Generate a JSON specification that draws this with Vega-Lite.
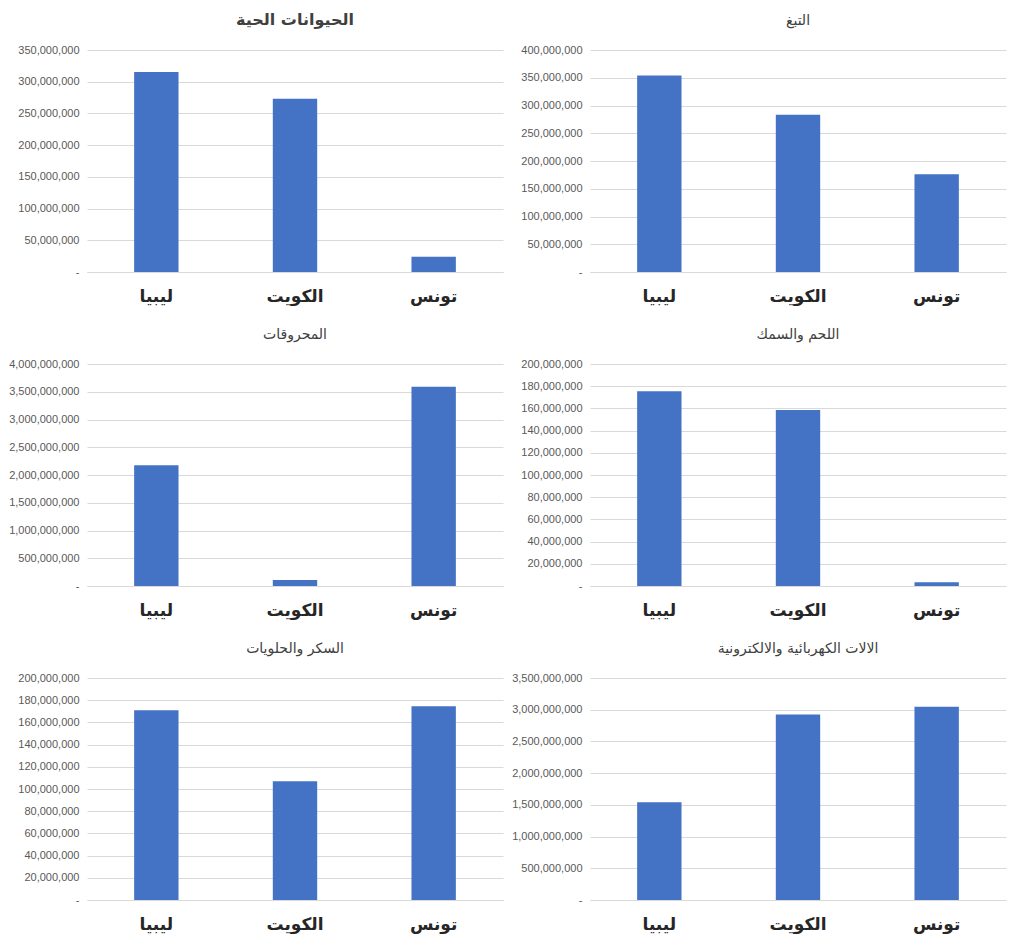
{
  "$schema": "https://vega.github.io/schema/vega-lite/v6.json",
  "background": "white",
  "padding": {"left": 8, "top": 12, "right": 6, "bottom": 6},
  "datasets": {
    "trade": [
      {"panel": "p1", "country": "ليبيا", "value": 315500000},
      {"panel": "p1", "country": "الكويت", "value": 273000000},
      {"panel": "p1", "country": "تونس", "value": 24000000},
      {"panel": "p2", "country": "ليبيا", "value": 354000000},
      {"panel": "p2", "country": "الكويت", "value": 283500000},
      {"panel": "p2", "country": "تونس", "value": 176000000},
      {"panel": "p3", "country": "ليبيا", "value": 2175000000},
      {"panel": "p3", "country": "الكويت", "value": 107000000},
      {"panel": "p3", "country": "تونس", "value": 3590000000},
      {"panel": "p4", "country": "ليبيا", "value": 175500000},
      {"panel": "p4", "country": "الكويت", "value": 158500000},
      {"panel": "p4", "country": "تونس", "value": 3300000},
      {"panel": "p5", "country": "ليبيا", "value": 171000000},
      {"panel": "p5", "country": "الكويت", "value": 107000000},
      {"panel": "p5", "country": "تونس", "value": 174500000},
      {"panel": "p6", "country": "ليبيا", "value": 1541000000},
      {"panel": "p6", "country": "الكويت", "value": 2925000000},
      {"panel": "p6", "country": "تونس", "value": 3045000000}
    ]
  },
  "columns": 2,
  "spacing": {"column": 8, "row": 24},
  "concat": [
    {
      "title": {"text": "الحيوانات الحية", "fontWeight": "bold", "fontSize": 16},
      "data": {"name": "trade"},
      "transform": [{"filter": "datum.panel == 'p1'"}],
      "width": 416, "height": 222,
      "mark": {"type": "bar", "color": "#4472C4"},
      "encoding": {
        "x": {"field": "country", "type": "nominal", "sort": ["ليبيا", "الكويت", "تونس"], "title": null, "scale": {"paddingInner": 0.68, "paddingOuter": 0.34}},
        "y": {"field": "value", "type": "quantitative", "title": null, "scale": {"domain": [0, 350000000]}, "axis": {"values": [0, 50000000, 100000000, 150000000, 200000000, 250000000, 300000000, 350000000]}}
      }
    },
    {
      "title": {"text": "التبغ"},
      "data": {"name": "trade"},
      "transform": [{"filter": "datum.panel == 'p2'"}],
      "width": 416, "height": 222,
      "mark": {"type": "bar", "color": "#4472C4"},
      "encoding": {
        "x": {"field": "country", "type": "nominal", "sort": ["ليبيا", "الكويت", "تونس"], "title": null, "scale": {"paddingInner": 0.68, "paddingOuter": 0.34}},
        "y": {"field": "value", "type": "quantitative", "title": null, "scale": {"domain": [0, 400000000]}, "axis": {"values": [0, 50000000, 100000000, 150000000, 200000000, 250000000, 300000000, 350000000, 400000000]}}
      }
    },
    {
      "title": {"text": "المحروقات"},
      "data": {"name": "trade"},
      "transform": [{"filter": "datum.panel == 'p3'"}],
      "width": 416, "height": 222,
      "mark": {"type": "bar", "color": "#4472C4"},
      "encoding": {
        "x": {"field": "country", "type": "nominal", "sort": ["ليبيا", "الكويت", "تونس"], "title": null, "scale": {"paddingInner": 0.68, "paddingOuter": 0.34}},
        "y": {"field": "value", "type": "quantitative", "title": null, "scale": {"domain": [0, 4000000000]}, "axis": {"values": [0, 500000000, 1000000000, 1500000000, 2000000000, 2500000000, 3000000000, 3500000000, 4000000000]}}
      }
    },
    {
      "title": {"text": "اللحم والسمك"},
      "data": {"name": "trade"},
      "transform": [{"filter": "datum.panel == 'p4'"}],
      "width": 416, "height": 222,
      "mark": {"type": "bar", "color": "#4472C4"},
      "encoding": {
        "x": {"field": "country", "type": "nominal", "sort": ["ليبيا", "الكويت", "تونس"], "title": null, "scale": {"paddingInner": 0.68, "paddingOuter": 0.34}},
        "y": {"field": "value", "type": "quantitative", "title": null, "scale": {"domain": [0, 200000000]}, "axis": {"values": [0, 20000000, 40000000, 60000000, 80000000, 100000000, 120000000, 140000000, 160000000, 180000000, 200000000]}}
      }
    },
    {
      "title": {"text": "السكر والحلويات"},
      "data": {"name": "trade"},
      "transform": [{"filter": "datum.panel == 'p5'"}],
      "width": 416, "height": 222,
      "mark": {"type": "bar", "color": "#4472C4"},
      "encoding": {
        "x": {"field": "country", "type": "nominal", "sort": ["ليبيا", "الكويت", "تونس"], "title": null, "scale": {"paddingInner": 0.68, "paddingOuter": 0.34}},
        "y": {"field": "value", "type": "quantitative", "title": null, "scale": {"domain": [0, 200000000]}, "axis": {"values": [0, 20000000, 40000000, 60000000, 80000000, 100000000, 120000000, 140000000, 160000000, 180000000, 200000000]}}
      }
    },
    {
      "title": {"text": "الالات الكهربائية والالكترونية"},
      "data": {"name": "trade"},
      "transform": [{"filter": "datum.panel == 'p6'"}],
      "width": 416, "height": 222,
      "mark": {"type": "bar", "color": "#4472C4"},
      "encoding": {
        "x": {"field": "country", "type": "nominal", "sort": ["ليبيا", "الكويت", "تونس"], "title": null, "scale": {"paddingInner": 0.68, "paddingOuter": 0.34}},
        "y": {"field": "value", "type": "quantitative", "title": null, "scale": {"domain": [0, 3500000000]}, "axis": {"values": [0, 500000000, 1000000000, 1500000000, 2000000000, 2500000000, 3000000000, 3500000000]}}
      }
    }
  ],
  "config": {
    "view": {"stroke": null},
    "title": {"font": "DejaVu Sans", "fontSize": 14, "fontWeight": "normal", "color": "#404040", "offset": 16, "anchor": "middle"},
    "axisX": {"labelFont": "DejaVu Sans", "labelFontSize": 17, "labelFontWeight": "bold", "labelColor": "#262626", "labelAngle": 0, "labelPadding": 16, "ticks": false, "domainColor": "#d9d9d9", "grid": false},
    "axisY": {"labelFont": "Liberation Sans", "labelFontSize": 11, "labelColor": "#595959", "labelPadding": 8, "ticks": false, "domain": false, "gridColor": "#d9d9d9", "labelExpr": "datum.value == 0 ? '-' : format(datum.value, ',')"}
  }
}
